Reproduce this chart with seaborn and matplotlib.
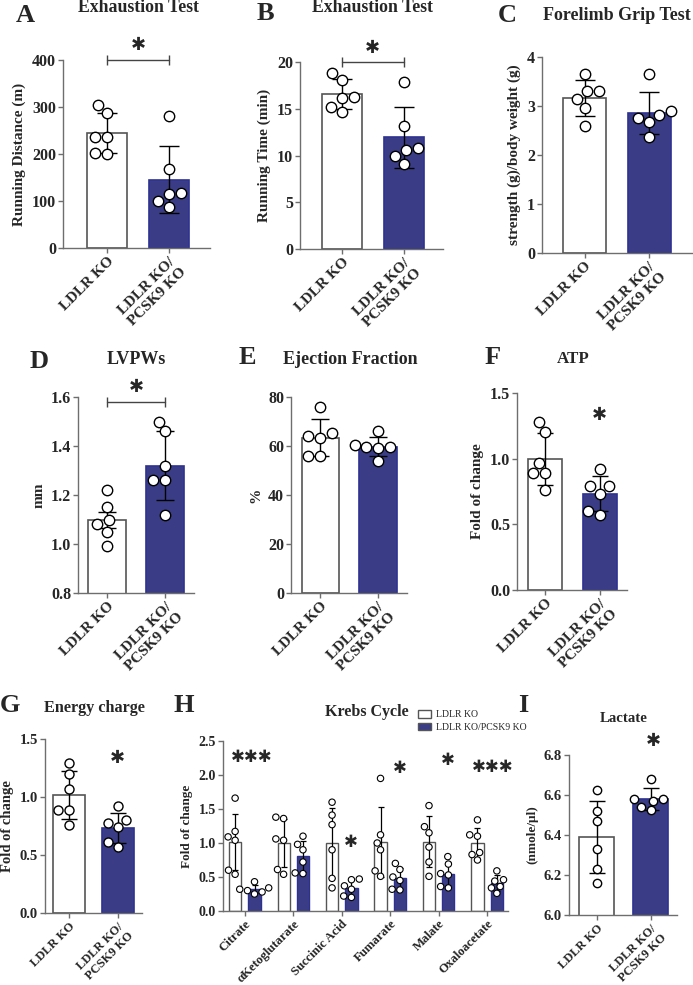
import numpy as np
import pandas as pd
import matplotlib
matplotlib.use("Agg")
import matplotlib.pyplot as plt
from matplotlib.ticker import FormatStrFormatter
import seaborn as sns
import warnings
warnings.filterwarnings("ignore")

sns.set_theme(style="ticks")
plt.rcParams["font.family"] = ["Liberation Serif", "DejaVu Serif"]
plt.rcParams["font.weight"] = "bold"
plt.rcParams["axes.labelweight"] = "bold"

# ---------------- data ----------------
groups = ["LDLR KO", "LDLR KO/\nPCSK9 KO"]
legend_labels = ["LDLR KO", "LDLR KO/PCSK9 KO"]

dist_ldlr = [305, 288, 237, 237, 200, 203]
dist_dko = [280, 168, 118, 115, 101, 88]
time_ldlr = [18.8, 18.1, 16.2, 16.3, 14.7, 15.2]
time_dko = [17.9, 13.2, 10.8, 10.6, 10.0, 9.1]
grip_ldlr = [3.66, 3.30, 3.30, 3.15, 2.96, 2.59]
grip_dko = [3.66, 2.82, 2.89, 2.76, 2.67, 2.37]
lvpw_ldlr = [1.22, 1.15, 1.08, 1.10, 1.05, 0.99]
lvpw_dko = [1.50, 1.46, 1.32, 1.26, 1.26, 1.12]
ef_ldlr = [76.0, 65.3, 64.2, 63.4, 55.8, 55.8]
ef_dko = [66.1, 60.4, 59.6, 59.6, 59.0, 53.9]
atp_ldlr = [1.28, 1.20, 0.97, 0.89, 0.89, 0.76]
atp_dko = [0.92, 0.79, 0.79, 0.73, 0.60, 0.57]
ec_ldlr = [1.29, 1.20, 1.07, 0.89, 0.89, 0.76]
ec_dko = [0.92, 0.78, 0.80, 0.74, 0.61, 0.57]
lac_ldlr = [6.625, 6.52, 6.468, 6.33, 6.23, 6.162]
lac_dko = [6.68, 6.578, 6.572, 6.578, 6.525, 6.542]

krebs_names = ["Citrate", "αKetoglutarate", "Succinic Acid", "Fumarate", "Malate", "Oxaloacetate"]
krebs_ldlr = [
    [1.66, 1.17, 1.09, 1.04, 0.60, 0.54],
    [1.36, 1.38, 1.04, 1.06, 0.61, 0.54],
    [1.60, 1.41, 1.27, 0.90, 0.48, 0.34],
    [1.95, 1.12, 1.00, 0.90, 0.59, 0.51],
    [1.55, 1.24, 1.15, 0.94, 0.72, 0.51],
    [1.34, 1.12, 1.10, 0.86, 0.75, 0.83],
]
krebs_dko = [
    [0.43, 0.34, 0.32, 0.25, 0.30, 0.28],
    [1.10, 0.98, 0.90, 0.72, 0.55, 0.56],
    [0.47, 0.46, 0.37, 0.32, 0.20, 0.22],
    [0.70, 0.61, 0.50, 0.45, 0.31, 0.32],
    [0.80, 0.69, 0.55, 0.53, 0.36, 0.34],
    [0.59, 0.46, 0.44, 0.36, 0.34, 0.26],
]
krebs_sig = ["***", "", "*", "*", "*", "***"]

# ---------------- style ----------------
BLUE = "#2e3192"
EDGE = "#555555"
AXC = "#6e6e6e"
STAR = "\u2731"
W, H = 693, 985
fig = plt.figure(figsize=(W / 100, H / 100), dpi=100)


def add_ax(x0, y0, x1, y1):
    return fig.add_axes([x0 / W, 1 - y1 / H, (x1 - x0) / W, (y1 - y0) / H])


def style_axis(ax, fs):
    sns.despine(ax=ax)
    for s in ["left", "bottom"]:
        ax.spines[s].set_color(AXC)
        ax.spines[s].set_linewidth(1.0)
    ax.tick_params(axis="both", color=AXC, width=1.0, length=3.5, pad=1.5, labelsize=fs)


def star(ax, x, y, s, fs=13):
    ax.text(x, y, s.replace("*", STAR), ha="center", va="center", fontsize=fs,
            fontweight="bold", family=["DejaVu Sans"], clip_on=False)


def bar_panel(ax, ldlr, dko, ylim, yticks, ylabel, xlim, width=0.65, err=("sd", "sd"),
              msize=7.5, capsize=7.5, fs=11.5, xfs=11, lfs=11, fmt=None):
    df = pd.DataFrame({"group": [groups[0]] * len(ldlr) + [groups[1]] * len(dko),
                       "value": list(ldlr) + list(dko)})
    sns.barplot(data=df, x="group", y="value", hue="group", order=groups, hue_order=groups,
                palette=["white", BLUE], errorbar=None, width=width, edgecolor=EDGE,
                linewidth=1.2, legend=False, ax=ax, zorder=1)
    for p, ec in zip(ax.patches, [EDGE, BLUE]):
        p.set_edgecolor(ec)
    for i, vals in enumerate([ldlr, dko]):
        v = np.asarray(vals, float)
        m, s = v.mean(), v.std(ddof=1)
        if err[i] == "se":
            s /= np.sqrt(len(v))
        ax.errorbar(i, m, yerr=s, fmt="none", ecolor="black", elinewidth=1.0,
                    capsize=capsize, capthick=1.0, zorder=3)
    sns.swarmplot(data=df, x="group", y="value", order=groups, color="white",
                  edgecolor="black", linewidth=1.0, size=msize, ax=ax, zorder=4)
    ax.set_xlim(*xlim)
    ax.set_ylim(*ylim)
    ax.set_yticks(yticks)
    if fmt:
        ax.yaxis.set_major_formatter(FormatStrFormatter(fmt))
    ax.set_xlabel("")
    ax.set_ylabel(ylabel, fontsize=lfs, labelpad=4)
    style_axis(ax, fs)
    ax.set_xticks([0, 1])
    ax.set_xticklabels(groups, rotation=45, ha="right", rotation_mode="anchor",
                       multialignment="center", fontsize=xfs)


def bracket(ax, y):
    ax.plot([0, 1], [y, y], color="#444444", lw=1.0, marker="|", markersize=7,
            markeredgewidth=1.0, clip_on=False, zorder=5)


def ftext(x, y, s, size, **kw):
    fig.text(x / W, 1 - y / H, s, ha="center", va="center", fontsize=size,
             fontweight="bold", **kw)


# ---------------- A ----------------
axA = add_ax(63, 60, 210, 248)
bar_panel(axA, dist_ldlr, dist_dko, (0, 400), [0, 100, 200, 300, 400],
          "Running Distance (m)", (-0.71, 1.66))
bracket(axA, 400)
star(axA, 0.5, 432, "*")

# ---------------- B ----------------
axB = add_ax(300, 62, 443, 249)
bar_panel(axB, time_ldlr, time_dko, (0, 20), [0, 5, 10, 15, 20],
          "Running Time (min)", (-0.68, 1.64))
bracket(axB, 20)
star(axB, 0.5, 21.5, "*")

# ---------------- C ----------------
axC = add_ax(542, 57, 693, 253)
bar_panel(axC, grip_ldlr, grip_dko, (0, 4), [0, 1, 2, 3, 4],
          "strength (g)/body weight (g)", (-0.66, 1.68), width=0.67)

# ---------------- D ----------------
axD = add_ax(78, 397, 194, 593)
bar_panel(axD, lvpw_ldlr, lvpw_dko, (0.8, 1.6), [0.8, 1.0, 1.2, 1.4, 1.6], "mm",
          (-0.5, 1.49), err=("se", "sd"), capsize=6.5, fmt="%.1f")
bracket(axD, 1.58)
star(axD, 0.5, 1.64, "*")

# ---------------- E ----------------
axE = add_ax(291, 397, 407, 593)
bar_panel(axE, ef_ldlr, ef_dko, (0, 80), [0, 20, 40, 60, 80], "%",
          (-0.51, 1.5), capsize=6.5)

# ---------------- F ----------------
axF = add_ax(517, 393, 627, 590)
bar_panel(axF, atp_ldlr, atp_dko, (0, 1.5), [0, 0.5, 1.0, 1.5], "Fold of change",
          (-0.51, 1.5), width=0.62, capsize=6, fmt="%.1f")
star(axF, 1.0, 1.33, "*")

# ---------------- G ----------------
axG = add_ax(45, 739, 142, 913)
bar_panel(axG, ec_ldlr, ec_dko, (0, 1.5), [0, 0.5, 1.0, 1.5], "Fold of change",
          (-0.49, 1.5), width=0.66, msize=6.5, capsize=6, fs=10.5, xfs=9, lfs=10.5,
          fmt="%.1f")
star(axG, 1.0, 1.34, "*")

# ---------------- H ----------------
axH = add_ax(223, 741, 508, 911)
rows = []
for name, a, b in zip(krebs_names, krebs_ldlr, krebs_dko):
    rows += [(name, legend_labels[0], v) for v in a]
    rows += [(name, legend_labels[1], v) for v in b]
dfH = pd.DataFrame(rows, columns=["metab", "group", "value"])
sns.barplot(data=dfH, x="metab", y="value", hue="group", order=krebs_names,
            hue_order=legend_labels, palette=["white", BLUE], errorbar=None, width=0.8,
            gap=0.375, edgecolor=EDGE, linewidth=1.0, ax=axH, zorder=1)
for p in axH.patches:
    if p.get_facecolor()[2] < 0.9 and p.get_width() < 1:
        p.set_edgecolor(BLUE)
offs = [-0.2, 0.2]
for i, (a, b) in enumerate(zip(krebs_ldlr, krebs_dko)):
    for j, vals in enumerate([a, b]):
        v = np.asarray(vals, float)
        axH.errorbar(i + offs[j], v.mean(), yerr=v.std(ddof=1), fmt="none", ecolor="black",
                     elinewidth=0.9, capsize=2.5, capthick=0.9, zorder=3)
sns.swarmplot(data=dfH, x="metab", y="value", hue="group", order=krebs_names,
              hue_order=legend_labels, dodge=True, palette=["white", "white"],
              edgecolor="black", linewidth=0.8, size=4.6, legend=False, ax=axH, zorder=4)
axH.set_xlim(-0.45, 5.43)
axH.set_ylim(0, 2.5)
axH.set_yticks([0, 0.5, 1.0, 1.5, 2.0, 2.5])
axH.yaxis.set_major_formatter(FormatStrFormatter("%.1f"))
axH.set_xlabel("")
axH.set_ylabel("Fold of change", fontsize=9.5, labelpad=4)
style_axis(axH, 10)
axH.set_xticks(range(len(krebs_names)))
axH.set_xticklabels(krebs_names, rotation=45, ha="right", rotation_mode="anchor", fontsize=9.2)
sns.move_legend(axH, loc="upper left", bbox_to_anchor=(0.684, 1.18), frameon=False,
                title=None, prop={"weight": "normal", "size": 7}, borderpad=0,
                borderaxespad=0, handlelength=1.3, handleheight=0.8, handletextpad=0.6,
                labelspacing=0.35)
sig_pos = [(0.15, 2.27), None, (2.19, 1.02), (3.19, 2.1), (4.19, 2.22), (5.12, 2.12)]
for s, pos in zip(krebs_sig, sig_pos):
    if s and pos:
        star(axH, pos[0], pos[1], s, fs=12)

# ---------------- I ----------------
axI = add_ax(569, 755, 677, 915)
bar_panel(axI, lac_ldlr, lac_dko, (6.0, 6.8), [6.0, 6.2, 6.4, 6.6, 6.8], "(nmole/µl)",
          (-0.51, 1.49), width=0.65, msize=6.0, capsize=6, fs=10.5, xfs=9, lfs=9.5,
          fmt="%.1f")
star(axI, 1.05, 6.87, "*")

# ---------------- letters & titles ----------------
for L, x, y in [("A", 25, 15), ("B", 265, 13), ("C", 507, 15), ("D", 39, 361),
                ("E", 247, 357), ("F", 493, 357), ("G", 10, 705), ("H", 184, 705),
                ("I", 523, 705)]:
    ftext(x, y, L, 19)

for t, x, y, s in [("Exhaustion Test", 138, 8, 12.8), ("Exhaustion Test", 372, 7, 12.8),
                   ("Forelimb Grip Test", 617, 15, 13), ("LVPWs", 136, 360, 13),
                   ("Ejection Fraction", 350, 359, 13), ("ATP", 573, 359, 12.2),
                   ("Energy charge", 94, 708, 11.7), ("Krebs Cycle", 367, 712, 11.5),
                   ("Lactate", 624, 718, 10.7)]:
    ftext(x, y, t, s)

fig.savefig("out.png", dpi=100)
